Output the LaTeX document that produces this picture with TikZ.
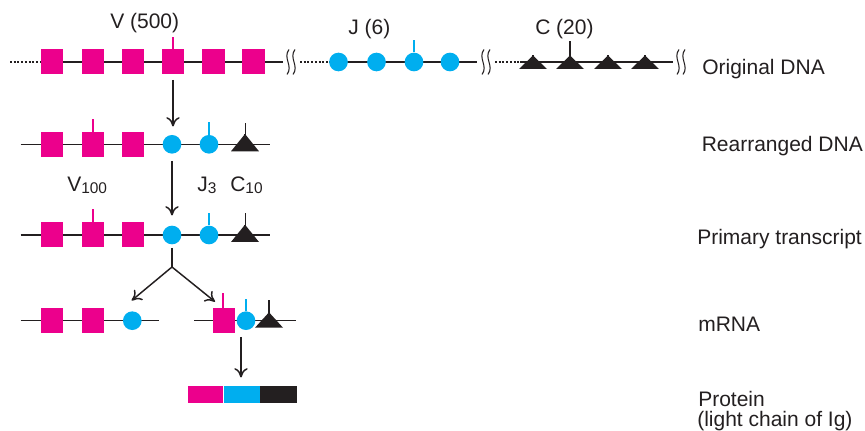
\documentclass[tikz,border=0pt]{standalone}
\usepackage{fontspec}
\setmainfont{Liberation Sans}
\usetikzlibrary{arrows.meta}
\definecolor{mag}{HTML}{EC008C}
\definecolor{cyn}{HTML}{00AEEF}
\definecolor{blk}{HTML}{231F20}
\newcommand\mysub[1]{\raisebox{-1.3pt}{\fontsize{11.6}{12}\selectfont #1}}
\tikzset{pics/tri/.style 2 args={code={%
  \fill[blk] (-14,7) -- (14,7) -- (0,-#1) -- cycle;
  \fill[blk] (-0.7,-#1+1) rectangle (0.7,-#2);}}}
\begin{document}
\begin{tikzpicture}[x=0.75pt,y=-0.75pt,
  dnaline/.style={draw=blk, line width=1.05pt},
  dotline/.style={draw=blk, line width=1pt, dash pattern=on 1.4pt off 1.4pt},
  sq/.style={rectangle, fill=mag, minimum width=17pt, minimum height=18.75pt, inner sep=0pt},
  cir/.style={circle, fill=cyn, minimum size=14pt, inner sep=0pt},
  tickm/.style={draw=mag, line width=1pt},
  tickc/.style={draw=cyn, line width=1pt},
  tickb/.style={draw=blk, line width=1.2pt},
  arr/.style={draw=blk, line width=1.1pt, -{Computer Modern Rightarrow[length=7pt,width=10pt]}},
  plain/.style={draw=blk, line width=1.1pt},
  lbl/.style={font=\fontsize{15.75}{20}\selectfont, text=blk, inner sep=0pt, anchor=base west},
  bar/.style={rectangle, inner sep=0pt, minimum height=13pt, anchor=west},
  squig/.pic={\draw[blk, line width=0.8pt] (1,-12.5) .. controls (-5.5,-4) and (5.5,4) .. (-1,12.5);
              \draw[blk, line width=0.8pt] (7,-12.5) .. controls (0.5,-4) and (11.5,4) .. (5,12.5);},
]
\useasboundingbox (0,0) rectangle (865,431);

% ---------- Row 1: original DNA ----------
\draw[dotline] (10,62) -- (40,62);
\draw[dnaline] (40,62) -- (283,62);
\pic at (288,62) {squig};
\draw[dotline] (300,62) -- (329,62);
\draw[dnaline] (329,62) -- (477,62);
\pic at (483,62) {squig};
\draw[dotline] (495,62) -- (520,62);
\draw[dnaline] (520,62) -- (673,62);
\pic at (678,62) {squig};

\node[sq] (a1) at (52,62) {};
\node[sq] (a2) at (93,62) {};
\node[sq] (a3) at (133,62) {};
\node[sq] (a4) at (173,62) {};
\node[sq] (a5) at (213.5,62) {};
\node[sq] (a6) at (253.5,62) {};
\node[cir] (b1) at (338.5,62) {};
\node[cir] (b2) at (376.5,62) {};
\node[cir] (b3) at (414,62) {};
\node[cir] (b4) at (450,62) {};
\pic at (533,62) {tri={6.5}{6.5}};
\pic at (570,62) {tri={6.5}{21}};
\pic at (608,62) {tri={6.5}{6.5}};
\pic at (645,62) {tri={6.5}{6.5}};

\draw[tickm] (a4.north) -- ++(0,-12);
\draw[tickc] (b3.north) -- ++(0,-12);

\node[lbl] (lV) at (110,28.3) {V (500)};
\node[lbl] (lJ) at (348,34.3) {J (6)};
\node[lbl] (lC) at (535,34.3) {C (20)};

% ---------- Row 2: rearranged DNA ----------
\draw[dnaline] (20.7,144.3) -- (270,144.3);
\node[sq] (r1) at (52,144.3) {};
\node[sq] (r2) at (93,144.3) {};
\node[sq] (r3) at (133,144.3) {};
\node[cir] (r4) at (172,144.3) {};
\node[cir] (r5) at (209,144.3) {};
\pic at (245,144.3) {tri={10.3}{10.3}};
\draw[tickm] (r2.north) -- ++(0,-13);
\draw[tickc] (r5.north) -- ++(0,-12.5);

\node[lbl] (lV100) at (67,191.7) {V\mysub{100}};
\node[lbl] (lJ3) at (197,191.7) {J\mysub{3}};
\node[lbl] (lC10) at (230,191.7) {C\mysub{10}};

% ---------- Row 3: primary transcript ----------
\draw[dnaline] (20.7,235) -- (270,235);
\node[sq] (p1) at (52,235) {};
\node[sq] (p2) at (93,235) {};
\node[sq] (p3) at (133,235) {};
\node[cir] (p4) at (172,235) {};
\node[cir] (p5) at (209,235) {};
\pic at (245,235) {tri={10.3}{10.3}};
\draw[tickm] (p2.north) -- ++(0,-13);
\draw[tickc] (p5.north) -- ++(0,-12.5);

% ---------- Row 4: mRNA ----------
\draw[dnaline] (20.7,320.7) -- (159.3,320.7);
\node[sq] (m1) at (52,320.7) {};
\node[sq] (m2) at (93,320.7) {};
\node[cir] (m3) at (132.3,320.7) {};

\draw[dnaline] (194.3,320.7) -- (295.7,320.7);
\node[sq] (n1) at (224,320.7) {};
\node[cir] (n2) at (246,320.7) {};
\pic at (269,320.7) {tri={8.4}{21}};
\coordinate (n1top) at (223,308);
\draw[tickm] (n1top) -- ++(0,-14.5);
\draw[tickc] (n2.north) -- ++(0,-12.5);

% ---------- Protein bar ----------
\node[bar, fill=mag, minimum width=26.6pt] (pr1) at (187.3,394.7) {};
\node[bar, fill=cyn, minimum width=27.2pt] (pr2) at (pr1.east) {};
\node[bar, fill=blk, minimum width=27.5pt] (pr3) at (pr2.east) {};

% ---------- Arrows ----------
\coordinate (s1) at (173,80);
\coordinate (e1) at (173,126.5);
\draw[arr] (s1) -- (e1);
\coordinate (s2) at (172,161);
\coordinate (e2) at (172,215.5);
\draw[arr] (s2) -- (e2);
\coordinate (s3) at (172,248);
\coordinate (fork) at (172,267);
\coordinate (eL) at (131.7,300.5);
\coordinate (eR) at (215,301.7);
\draw[plain] (s3) -- (fork);
\draw[arr] (fork) -- (eL);
\draw[arr] (fork) -- (eR);
\coordinate (s4) at (241,337);
\coordinate (e4) at (241,377.5);
\draw[arr] (s4) -- (e4);

% ---------- Right labels ----------
\node[lbl] (t1) at (702,75) {Original DNA};
\node[lbl] (t2) at (701.5,151.7) {Rearranged DNA};
\node[lbl] (t3) at (697,244.3) {Primary transcript};
\node[lbl] (t4) at (698,331) {mRNA};
\node[lbl] (t5) at (698,406.7) {Protein};
\node[lbl] (t6) at (697,426.7) {(light chain of Ig)};

% ---------- C-segment ticks of rows 2 and 3 (drawn last) ----------
\coordinate (r6a) at (245.5,135.5);
\coordinate (r6b) at (245.5,123);
\coordinate (p6a) at (245.5,226);
\coordinate (p6b) at (245.5,213);
\draw[tickb] (r6a) -- (r6b);
\draw[tickb] (p6a) -- (p6b);
\end{tikzpicture}
\end{document}
